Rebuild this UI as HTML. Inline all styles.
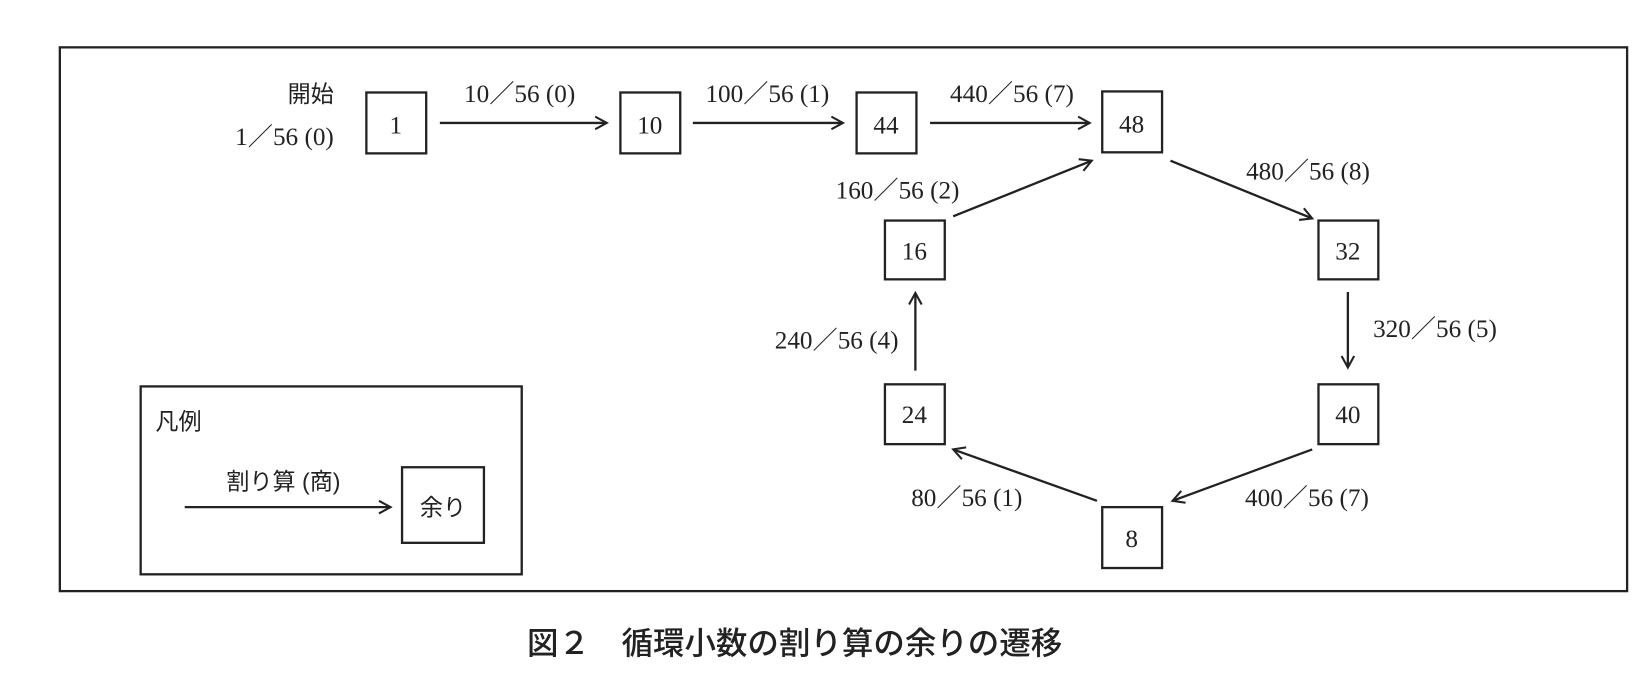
<!DOCTYPE html>
<html><head><meta charset="utf-8"><style>
html,body{margin:0;padding:0;background:#fff;width:1646px;height:692px;overflow:hidden}
svg{display:block}
.n{font-family:"Liberation Serif","Noto Serif CJK SC",serif;font-size:24px;fill:#222}
.j{font-family:"Liberation Sans","Noto Sans CJK JP",sans-serif;font-size:22px;fill:#222}
</style></head><body>
<svg width="1646" height="692" viewBox="0 0 1568 659" xmlns="http://www.w3.org/2000/svg">
<defs><marker id="a" markerWidth="14" markerHeight="14" refX="12" refY="7" orient="auto" markerUnits="userSpaceOnUse"><path d="M1,1 L12,7 L1,13" fill="none" stroke="#222" stroke-width="2"/></marker></defs>
<g fill="none" stroke="#222" stroke-width="2.2">
<rect x="57" y="45" width="1493" height="518"/>
<rect x="349" y="88" width="57" height="58"/>
<rect x="591" y="88" width="57" height="58"/>
<rect x="816" y="88" width="57" height="58"/>
<rect x="1050" y="87" width="57" height="58"/>
<rect x="843" y="210" width="57" height="56"/>
<rect x="1256" y="210" width="57" height="56"/>
<rect x="843" y="366" width="57" height="57"/>
<rect x="1256" y="366" width="57" height="57"/>
<rect x="1050" y="483" width="57" height="58"/>
<rect x="134" y="368" width="363" height="179"/>
<rect x="383" y="445" width="78" height="72"/>
</g>
<g stroke="#222" stroke-width="2.2" marker-end="url(#a)">
<line x1="419" y1="117" x2="578" y2="117"/>
<line x1="660" y1="117" x2="803" y2="117"/>
<line x1="886" y1="117" x2="1038" y2="117"/>
<line x1="1115" y1="153" x2="1250" y2="208"/>
<line x1="908" y1="206" x2="1040" y2="153"/>
<line x1="1284" y1="278" x2="1284" y2="350"/>
<line x1="1250" y1="428" x2="1117" y2="477"/>
<line x1="1045" y1="477" x2="908" y2="428"/>
<line x1="872" y1="353" x2="872" y2="279"/>
<line x1="176" y1="483" x2="372" y2="483"/>
</g>
<g class="n" text-anchor="middle">
<text x="377" y="127">1</text>
<text x="619" y="127">10</text>
<text x="844" y="127">44</text>
<text x="1078" y="126">48</text>
<text x="871" y="247">16</text>
<text x="1284" y="247">32</text>
<text x="871" y="403">24</text>
<text x="1284" y="403">40</text>
<text x="1078" y="521">8</text>
<text x="495" y="97">10／56 (0)</text>
<text x="731" y="97">100／56 (1)</text>
<text x="964" y="97">440／56 (7)</text>
<text x="1246" y="171">480／56 (8)</text>
<text x="855" y="189">160／56 (2)</text>
<text x="1367" y="321">320／56 (5)</text>
<text x="797" y="332">240／56 (4)</text>
<text x="1245" y="482">400／56 (7)</text>
<text x="921" y="482">80／56 (1)</text>
</g>
<g class="n" text-anchor="end">
<text x="318" y="97" class="j">開始</text>
<text x="318" y="138">1／56 (0)</text>
</g>
<text x="148" y="409" class="j">凡例</text>
<text x="270" y="466" class="j" text-anchor="middle">割り算 (商)</text>
<text x="422" y="491" class="j" text-anchor="middle">余り</text>
<text x="757" y="623" text-anchor="middle" style="font-family:'Liberation Sans','Noto Sans CJK JP',sans-serif;font-size:30px;font-weight:500;fill:#222">図２　循環小数の割り算の余りの遷移</text>
</svg>
</body></html>
